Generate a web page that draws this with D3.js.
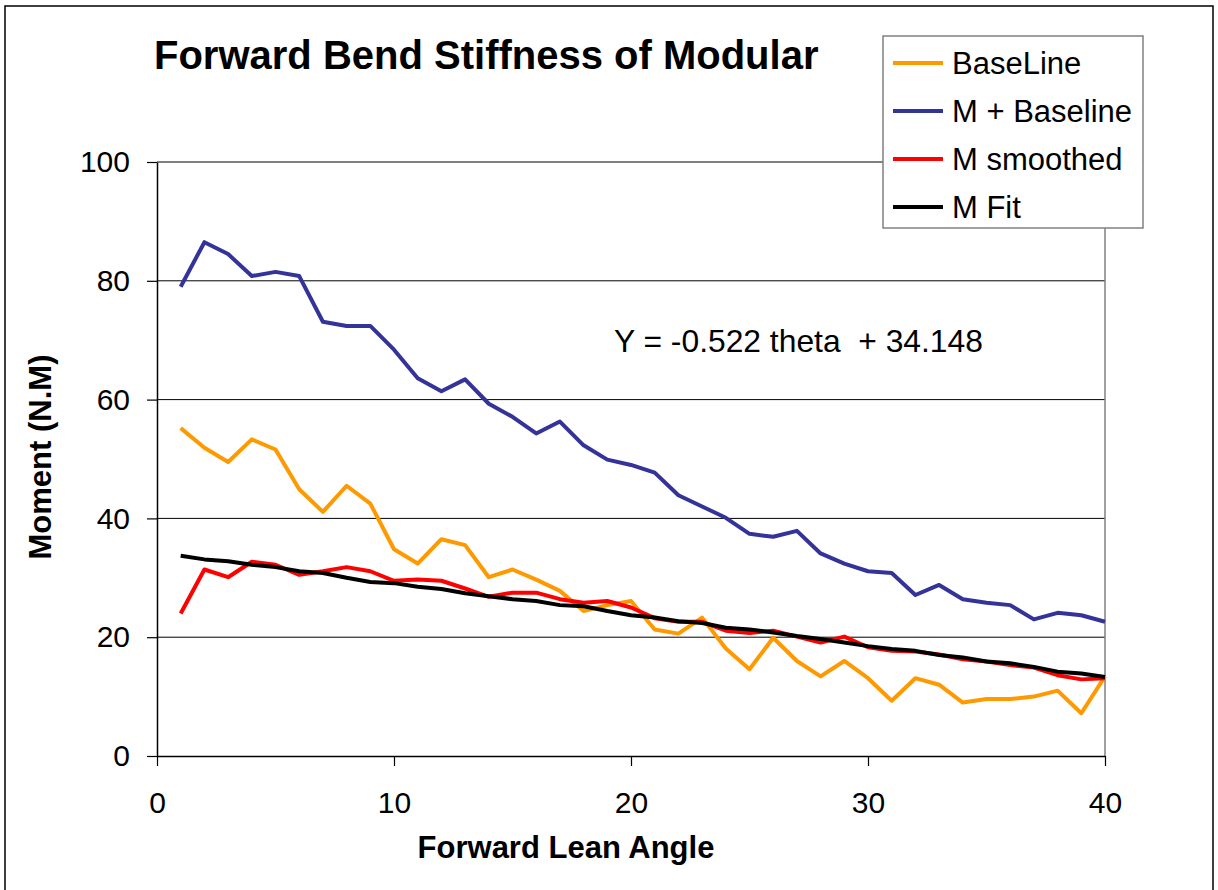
<!DOCTYPE html>
<html>
<head>
<meta charset="utf-8">
<script src="https://cdn.jsdelivr.net/npm/d3@7"></script>
<style>
  body { margin: 0; background: #fff; }
  svg { display: block; font-family: Arial, "Liberation Sans", sans-serif; }
</style>
</head>
<body>
<div id="chart"></div>
<script>
// lean angles 1..40
const angles = [1,2,3,4,5,6,7,8,9,10,11,12,13,14,15,16,17,18,19,20,
  21,22,23,24,25,26,27,28,29,30,31,32,33,34,35,36,37,38,39,40];

const baseLine = [55.2,51.9,49.5,53.3,51.6,44.9,41.1,45.5,42.5,34.8,
  32.4,36.5,35.5,30.1,31.4,29.7,27.8,24.4,25.4,26.1,
  21.3,20.6,23.3,18.1,14.6,19.9,16.0,13.4,16.0,13.1,
  9.3,13.1,12.0,9.0,9.6,9.6,10.0,11.0,7.2,13.4];

const mPlusBaseline = [79.0,86.5,84.5,80.8,81.5,80.8,73.1,72.4,72.4,68.4,
  63.6,61.4,63.4,59.3,57.1,54.3,56.3,52.3,49.9,49.0,
  47.7,43.9,42.0,40.1,37.4,36.9,37.9,34.1,32.4,31.1,
  30.8,27.1,28.8,26.4,25.8,25.4,23.0,24.1,23.7,22.6];

const mSmoothed = [24.0,31.4,30.1,32.7,32.2,30.5,31.1,31.8,31.1,29.5,
  29.7,29.5,28.2,26.8,27.5,27.5,26.4,25.8,26.1,25.0,
  23.2,22.6,22.6,21.1,20.7,21.1,20.1,19.1,20.1,18.3,
  17.7,17.6,17.1,16.3,15.9,15.3,14.9,13.6,12.9,13.1];

const mFit = [33.7,33.1,32.8,32.2,31.8,31.1,30.8,30.0,29.3,29.1,
  28.5,28.1,27.4,26.9,26.4,26.1,25.4,25.2,24.4,23.7,
  23.3,22.7,22.4,21.6,21.3,20.8,20.2,19.7,19.1,18.5,
  18.0,17.7,17.0,16.6,15.9,15.6,15.0,14.2,13.9,13.3];

const seriesNames = ["BaseLine", "M + Baseline", "M smoothed", "M Fit"];
const seriesColors = ["#FF9900", "#333399", "#FF0000", "#000000"];
const seriesValues = [baseLine, mPlusBaseline, mSmoothed, mFit];

const xTicks = [0, 10, 20, 30, 40];
const yTicks = [0, 20, 40, 60, 80, 100];

const titleText = "Forward Bend Stiffness of Modular";
const xTitle = "Forward Lean Angle";
const yTitle = "Moment (N.M)";
const equationText = "Y = -0.522 theta  + 34.148";

// layout
const width = 1218, height = 890;
const plot = { left: 157, right: 1105, top: 162, bottom: 756 };

const svg = d3.select("#chart").append("svg")
  .attr("width", width)
  .attr("height", height);

svg.append("rect")
  .attr("width", width).attr("height", height)
  .attr("fill", "#fff");

// outer chart frame
svg.append("rect")
  .attr("x", 5).attr("y", 6)
  .attr("width", 1208).attr("height", 892)
  .attr("fill", "none")
  .attr("stroke", "#000")
  .attr("stroke-width", 1.5);

const x = d3.scaleLinear().domain([0, 40]).range([plot.left, plot.right]);
const y = d3.scaleLinear().domain([0, 100]).range([plot.bottom, plot.top]);

// gridlines
svg.append("g")
  .selectAll("line")
  .data(yTicks.filter(d => d > 0))
  .enter()
  .append("line")
  .attr("x1", plot.left).attr("x2", plot.right)
  .attr("y1", d => y(d)).attr("y2", d => y(d))
  .attr("stroke", "#000")
  .attr("stroke-width", 1);

// right border of plot area
svg.append("line")
  .attr("x1", plot.right).attr("x2", plot.right)
  .attr("y1", plot.top).attr("y2", plot.bottom)
  .attr("stroke", "#808080")
  .attr("stroke-width", 1.5);

// axes
const yAxis = svg.append("g")
  .attr("transform", `translate(${plot.left},0)`)
  .call(d3.axisLeft(y).tickValues(yTicks).tickSize(10).tickPadding(17).tickSizeOuter(0));

const xAxis = svg.append("g")
  .attr("transform", `translate(0,${plot.bottom})`)
  .call(d3.axisBottom(x).tickValues(xTicks).tickSize(10).tickPadding(26).tickSizeOuter(0));

[yAxis, xAxis].forEach(g => {
  g.select(".domain").attr("stroke", "#000").attr("stroke-width", 1.5);
  g.selectAll(".tick line").attr("stroke", "#000").attr("stroke-width", 1.2);
  g.selectAll(".tick text")
    .attr("fill", "#000")
    .style("font-size", "30px")
    .style("font-family", "Arial, 'Liberation Sans', sans-serif");
});

// series lines
const line = d3.line()
  .x((d, i) => x(angles[i]))
  .y(d => y(d));

svg.append("g")
  .selectAll("path")
  .data(seriesValues)
  .enter()
  .append("path")
  .attr("d", line)
  .attr("fill", "none")
  .attr("stroke", (d, i) => seriesColors[i])
  .attr("stroke-width", 4)
  .attr("stroke-linejoin", "round");

// titles
svg.append("text")
  .attr("x", 154).attr("y", 69)
  .style("font-size", "40px")
  .style("font-weight", "bold")
  .text(titleText);

svg.append("text")
  .attr("x", 566).attr("y", 858)
  .attr("text-anchor", "middle")
  .style("font-size", "31px")
  .style("font-weight", "bold")
  .text(xTitle);

svg.append("text")
  .attr("transform", "translate(51,457) rotate(-90)")
  .attr("text-anchor", "middle")
  .style("font-size", "31px")
  .style("font-weight", "bold")
  .text(yTitle);

svg.append("text")
  .attr("x", 614).attr("y", 352)
  .style("font-size", "31.8px")
  .style("white-space", "pre")
  .text(equationText);

// legend
const legend = svg.append("g");
legend.append("rect")
  .attr("x", 883).attr("y", 36)
  .attr("width", 260).attr("height", 192)
  .attr("fill", "#fff")
  .attr("stroke", "#808080")
  .attr("stroke-width", 1.5);

const item = legend.selectAll("g.item")
  .data(seriesNames)
  .enter()
  .append("g")
  .attr("class", "item")
  .attr("transform", (d, i) => `translate(0,${63 + i * 48})`);

item.append("line")
  .attr("x1", 893).attr("x2", 943)
  .attr("stroke", (d, i) => seriesColors[i])
  .attr("stroke-width", 4);

item.append("text")
  .attr("x", 952).attr("y", 11)
  .style("font-size", "31px")
  .text(d => d);
</script>
</body>
</html>
